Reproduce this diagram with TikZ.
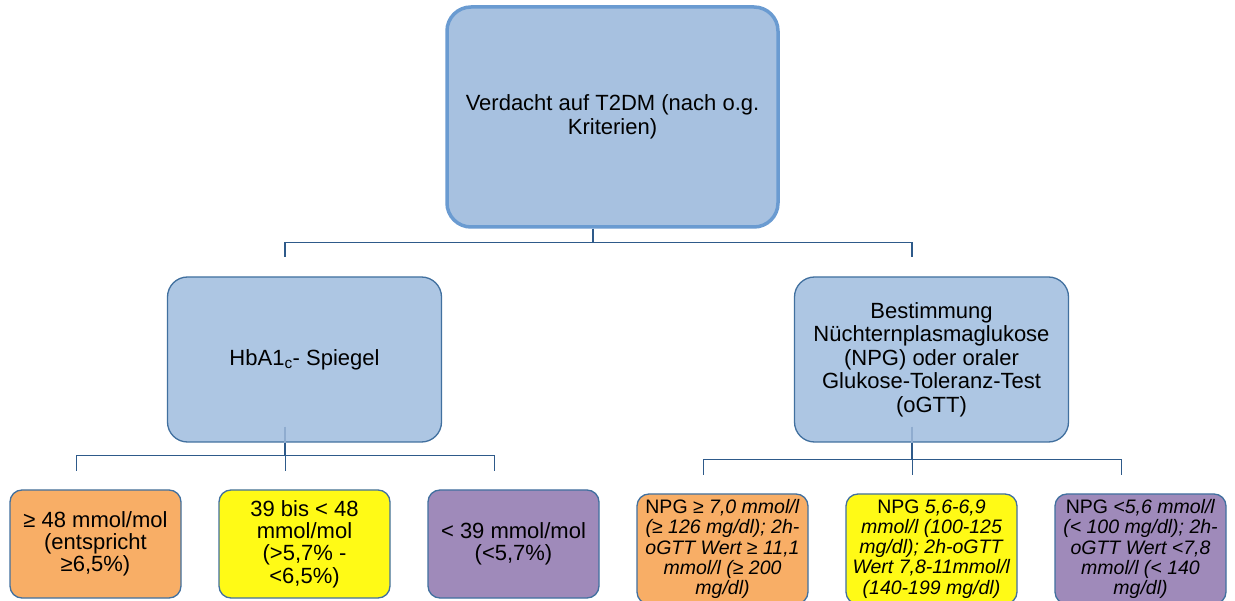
\documentclass[tikz,border=0pt]{standalone}
\usepackage{fontspec}
\setmainfont{Liberation Sans}
\usetikzlibrary{calc}
\definecolor{topfill}{HTML}{A7C1E0}
\definecolor{topline}{HTML}{6A9BD1}
\definecolor{midfill}{HTML}{ADC6E3}
\definecolor{boxline}{HTML}{41709F}
\definecolor{connline}{HTML}{2E5A8A}
\definecolor{faintline}{HTML}{8FACCF}
\definecolor{orangefill}{HTML}{F8AE66}
\definecolor{yellowfill}{HTML}{FFFA16}
\definecolor{purplefill}{HTML}{9F8ABA}
\tikzset{
  topbox/.style={draw=topline, line width=3.5pt, fill=topfill, rounded corners=24pt,
    minimum width=331pt, minimum height=220pt, align=center, inner sep=0pt,
    font=\fontsize{22}{23.5}\selectfont},
  midbox/.style={draw=boxline, line width=1.3pt, fill=midfill, rounded corners=20pt,
    minimum width=274pt, minimum height=165pt, align=center, inner sep=0pt,
    font=\fontsize{22}{23.5}\selectfont},
  lowbox/.style={draw=boxline, line width=1.3pt, rounded corners=12pt,
    minimum width=171pt, minimum height=108pt, align=center, inner sep=0pt,
    font=\fontsize{22}{22.3}\selectfont},
  npgbox/.style={draw=boxline, line width=1.3pt, rounded corners=12pt,
    minimum width=171pt, minimum height=110pt, align=center, inner sep=0pt,
    font=\fontsize{19.5}{20.2}\selectfont},
  conn/.style={draw=connline, line width=1.5pt},
  faint/.style={draw=faintline, line width=1.5pt}
}
\begin{document}
\begin{tikzpicture}[x=1pt,y=-1pt]
\useasboundingbox (0,0) rectangle (1235,601);
\clip (0,0) rectangle (1235,601);
\fill[white] (0,0) rectangle (1235,601);

% top
\node[topbox] (top) at (612.5,117) {Verdacht auf T2DM (nach o.g.\\Kriterien)};

% middle
\node[midbox] (hba) at (304.5,359.5) {HbA1\textsubscript{c}- Spiegel};
\node[midbox] (npg) at (931.5,359.5) {Bestimmung\\N\"uchternplasmaglukose\\(NPG) oder oraler\\Glukose-Toleranz-Test\\(oGTT)};

% lower left
\node[lowbox, fill=orangefill] (b1) at (95.5,544) {≥ 48 mmol/mol\\(entspricht\\≥6,5\%)};
\node[lowbox, fill=yellowfill] (b2) at (304.5,544) {39 bis < 48\\mmol/mol\\(>5,7\% -\\<6,5\%)};
\node[lowbox, fill=purplefill] (b3) at (513.5,544) {< 39 mmol/mol\\(<5,7\%)};

% lower right
\node[npgbox, fill=orangefill] (n1) at (722.5,549) {NPG ≥ \textit{7,0 mmol/l}\\\textit{(≥ 126 mg/dl); 2h-}\\\textit{oGTT Wert ≥ 11,1}\\\textit{mmol/l (≥ 200}\\\textit{mg/dl)}};
\node[npgbox, fill=yellowfill] (n2) at (931.5,549) {NPG \textit{5,6-6,9}\\\textit{mmol/l (100-125}\\\textit{mg/dl); 2h-oGTT}\\\textit{Wert 7,8-11mmol/l}\\\textit{(140-199 mg/dl)}};
\node[npgbox, fill=purplefill] (n3) at (1140.5,549) {NPG \textit{<5,6 mmol/l}\\\textit{(< 100 mg/dl); 2h-}\\\textit{oGTT Wert <7,8}\\\textit{mmol/l (< 140}\\\textit{mg/dl)}};

% connectors from top
\draw[conn] ($(top.south)+(-19.5,0)$) |- ($(hba.north)+(-19.5,-34)$) -- ++(0,15);
\draw[conn] ($(top.south)+(-19.5,0)$) |- ($(npg.north)+(-19.5,-34)$) -- ++(0,15);

% connectors from HbA1c
\draw[faint] ($(hba.south)+(-19.5,-16)$) -- ($(hba.south)+(-19.5,0)$);
\draw[conn] ($(hba.south)+(-19.5,0)$) |- ($(b1.north)+(-19,-34)$) -- ++(0,16);
\draw[conn] ($(hba.south)+(-19.5,0)$) |- ($(b2.north)+(-19,-34)$) -- ++(0,16);
\draw[conn] ($(hba.south)+(-19.5,0)$) |- ($(b3.north)+(-19,-34)$) -- ++(0,16);

% connectors from NPG
\draw[faint] ($(npg.south)+(-19.5,-16)$) -- ($(npg.south)+(-19.5,0)$);
\draw[conn] ($(npg.south)+(-19.5,0)$) |- ($(n1.north)+(-19,-34)$) -- ++(0,16);
\draw[conn] ($(npg.south)+(-19.5,0)$) |- ($(n2.north)+(-19,-34)$) -- ++(0,16);
\draw[conn] ($(npg.south)+(-19.5,0)$) |- ($(n3.north)+(-19,-34)$) -- ++(0,16);
\end{tikzpicture}
\end{document}
